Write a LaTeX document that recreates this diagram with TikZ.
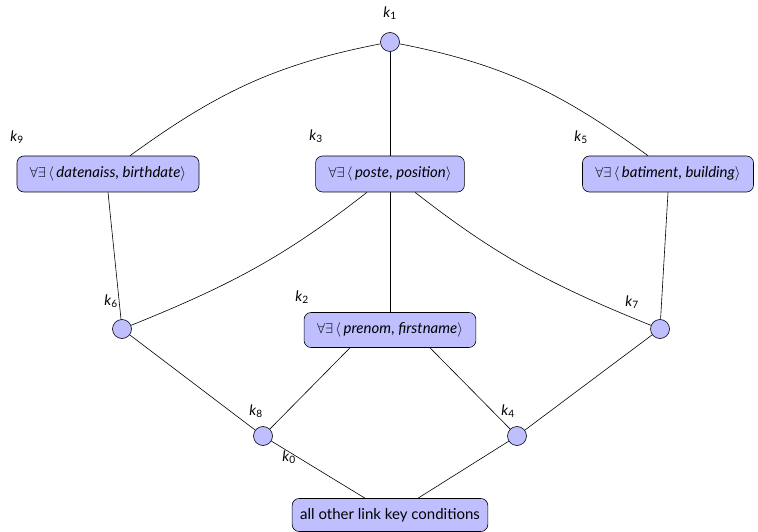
\documentclass[tikz,border=0pt]{standalone}
\usepackage{fontspec}
\setmainfont{Lato}
\begin{document}
\newcommand\kl[1]{\textit{k}\textsubscript{#1}}
\newcommand\cond[2]{$\forall\exists\,\langle$\,\textit{#1}, \textit{#2}$\rangle$}
\begin{tikzpicture}[x=1pt,y=-1pt,
  every node/.style={font=\fontsize{15}{18}\selectfont},
  keybox/.style={draw, fill=blue!25, rounded corners=7pt, minimum height=36pt, inner xsep=8pt, line width=0.6pt},
  condbox/.style={keybox, inner xsep=13pt},
  keydot/.style={draw, fill=blue!25, circle, minimum size=19pt, inner sep=0pt, line width=0.6pt},
  klabel/.style={inner sep=0pt, font=\fontsize{14.5}{17}\selectfont},
  edge/.style={line width=0.6pt}]
\useasboundingbox (0,0) rectangle (758,532);
% lattice elements
\node[keydot] (k1) at (390,42) {};
\node[condbox] (k9) at (108,174) {\cond{datenaiss}{birthdate}};
\node[condbox] (k3) at (390,174) {\cond{poste}{position}};
\node[condbox] (k5) at (668,174) {\cond{batiment}{building}};
\node[keydot] (k6) at (122,329) {};
\node[keydot] (k7) at (660,329) {};
\node[condbox, minimum height=35pt] (k2) at (390,330) {\cond{prenom}{firstname}};
\node[keydot] (k8) at (263,436) {};
\node[keydot] (k4) at (517,436) {};
\node[keybox, minimum height=33pt] (k0) at (390,515) {all other link key conditions};
% element names
\node[klabel] (l1) at (390,13) {\kl{1}};
\node[klabel] (l9) at (17,137) {\kl{9}};
\node[klabel] (l3) at (316,136) {\kl{3}};
\node[klabel] (l5) at (581,137) {\kl{5}};
\node[klabel] (l6) at (111,301) {\kl{6}};
\node[klabel] (l2) at (302,297) {\kl{2}};
\node[klabel] (l7) at (632,302) {\kl{7}};
\node[klabel] (l8) at (256,411) {\kl{8}};
\node[klabel] (l4) at (508,411) {\kl{4}};
\node[klabel] (l0) at (289,457) {\kl{0}};
% cover relation
\draw[edge] (k1) to[out=191, in=36] ([xshift=22pt]k9.north);
\draw[edge] (k1) to[out=-11, in=144] ([xshift=-20pt]k5.north);
\draw[edge] (k1) -- (k3);
\draw[edge] (k9.south) -- (k6);
\draw[edge] (k5.south) -- (k7);
\draw[edge] ([xshift=-23pt]k3.south) to[out=218, in=22] (k6);
\draw[edge] ([xshift=25pt]k3.south) to[out=-38, in=158] (k7);
\draw[edge] (k3) -- (k2);
\draw[edge] (k6) -- (k8);
\draw[edge] (k7) -- (k4);
\draw[edge] ([xshift=-40pt]k2.south) -- (k8);
\draw[edge] ([xshift=40pt]k2.south) -- (k4);
\draw[edge] (k8) -- ([xshift=-25pt]k0.north);
\draw[edge] (k4) -- ([xshift=28pt]k0.north);
\end{tikzpicture}
\end{document}
